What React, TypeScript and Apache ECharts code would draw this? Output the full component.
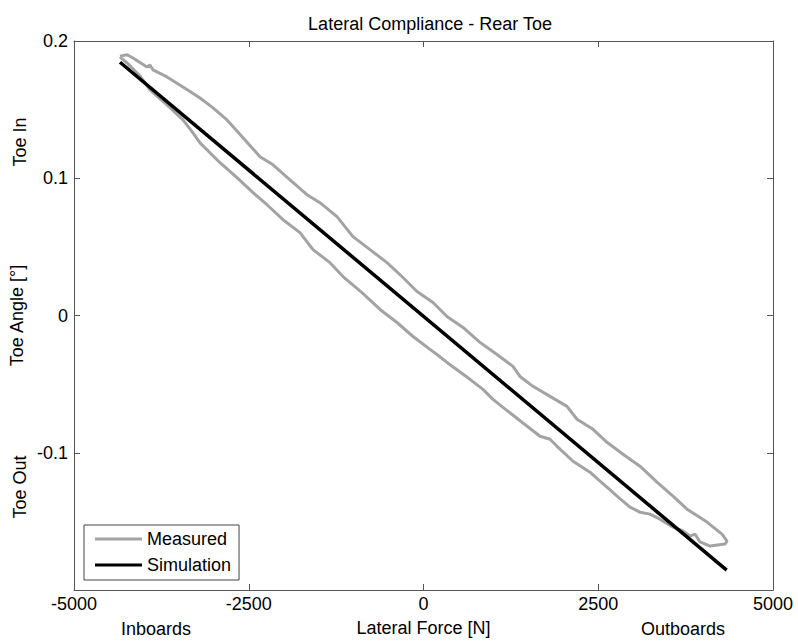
import React, { useEffect, useRef } from "react";
import * as echarts from "echarts";

const titleText = "Lateral Compliance - Rear Toe";
const xTicks = [-5000, -2500, 0, 2500, 5000];
const yTicks = [-0.2, -0.1, 0, 0.1, 0.2];

// Measured hysteresis loop: upper branch (inboard -> outboard), then lower branch back
const measuredX = [
  -4342, -4242, -4156, -3956, -3913, -3870, -3670, -3441, -3197, -3011, -2811, -2582, -2339, -2153, -1910,
  -1667, -1481, -1238, -1009, -765, -522, -308, -93, 136, 336, 565, 808, 1051, 1280, 1380, 1566, 1810,
  2053, 2196, 2425, 2625, 2854, 3097, 3340, 3569, 3770, 4056, 4270, 4342, 4313, 4099, 3956, 3884, 3812,
  3712, 3569, 3383, 3240, 3097, 2954, 2768, 2625, 2525, 2382, 2139, 1910, 1810, 1667, 1409, 1137, 994,
  851, 665, 336, 193, 93, -150, -379, -622, -880, -1152, -1338, -1581, -1767, -2010, -2239, -2439, -2668,
  -2911, -3197, -3298, -3441, -3670, -3913, -4056, -4227, -4342,
];
const measuredY = [
  0.189, 0.19, 0.1876, 0.181, 0.1825, 0.179, 0.1738, 0.1665, 0.1585, 0.1513, 0.1425, 0.1295, 0.1156, 0.1098,
  0.0989, 0.088, 0.0822, 0.072, 0.0575, 0.048, 0.0385, 0.0284, 0.0175, 0.0095, -0.0007, -0.0087, -0.0196,
  -0.0284, -0.0371, -0.0444, -0.0516, -0.0589, -0.0662, -0.0756, -0.0829, -0.0924, -0.1011, -0.1098, -0.1214,
  -0.1316, -0.1411, -0.1505, -0.1593, -0.1644, -0.1665, -0.168, -0.165, -0.1593, -0.1607, -0.157, -0.1542,
  -0.1484, -0.1447, -0.1433, -0.1396, -0.1316, -0.1251, -0.1207, -0.1142, -0.1062, -0.0953, -0.0902, -0.088,
  -0.0778, -0.0669, -0.0611, -0.0538, -0.0465, -0.0342, -0.0284, -0.0247, -0.0153, -0.0051, 0.0044, 0.0167,
  0.0284, 0.0385, 0.048, 0.0604, 0.0698, 0.0807, 0.0895, 0.1004, 0.1113, 0.1258, 0.1331, 0.1425, 0.1535,
  0.1644, 0.1745, 0.1833, 0.1884,
];

const simulationX = [-4342, 4337];
const simulationY = [0.1845, -0.1855];

const FONT = "'Liberation Sans', Arial, sans-serif";
const FS = 18;

export default function App() {
  const ref = useRef<HTMLDivElement>(null);
  useEffect(() => {
    if (!ref.current) return;
    const chart = echarts.init(ref.current, null, { renderer: "svg" });
    const axisLine = { show: true, onZero: false, lineStyle: { color: "#555", width: 1 } };
    const tick = { show: true, inside: true, length: 6, lineStyle: { color: "#555" } };
    chart.setOption({
      animation: false,
      backgroundColor: "#fff",
      title: {
        text: titleText,
        left: 425,
        top: 10,
        textAlign: "center",
        textStyle: { fontFamily: FONT, fontSize: FS, fontWeight: "normal", color: "#000" },
      },
      grid: { left: 74, right: 25, top: 41, bottom: 51, containLabel: false },
      legend: {
        orient: "vertical",
        left: 84,
        top: 525,
        icon: "rect",
        itemWidth: 47,
        itemHeight: 3,
        itemGap: 8,
        padding: [5, 8, 6, 11],
        borderColor: "#444",
        borderWidth: 1,
        borderRadius: 0,
        backgroundColor: "#fff",
        textStyle: { fontFamily: FONT, fontSize: FS, color: "#000" },
        data: ["Measured", "Simulation"],
      },
      xAxis: [
        {
          type: "value",
          min: xTicks[0],
          max: xTicks[xTicks.length - 1],
          interval: 2500,
          position: "bottom",
          name: "Lateral Force [N]",
          nameLocation: "middle",
          nameGap: 29,
          nameTextStyle: { fontFamily: FONT, fontSize: FS, color: "#000" },
          axisLine,
          axisTick: tick,
          splitLine: { show: false },
          axisLabel: { fontFamily: FONT, fontSize: FS, color: "#000", margin: 5, formatter: (v: number) => String(v) },
        },
        {
          type: "value",
          min: xTicks[0],
          max: xTicks[xTicks.length - 1],
          interval: 2500,
          position: "top",
          axisLine,
          axisTick: tick,
          splitLine: { show: false },
          axisLabel: { show: false },
        },
      ],
      yAxis: [
        {
          type: "value",
          min: yTicks[0],
          max: yTicks[yTicks.length - 1],
          interval: 0.1,
          position: "left",
          name: "Toe Angle [°]",
          nameLocation: "middle",
          nameGap: 45,
          nameRotate: 90,
          nameTextStyle: { fontFamily: FONT, fontSize: FS, color: "#000" },
          axisLine,
          axisTick: tick,
          splitLine: { show: false },
          axisLabel: {
            fontFamily: FONT,
            fontSize: FS,
            color: "#000",
            margin: 6,
            showMinLabel: false,
            formatter: (v: number) => (Math.abs(v) < 1e-9 ? "0" : String(Math.round(v * 10) / 10)),
          },
        },
        {
          type: "value",
          min: yTicks[0],
          max: yTicks[yTicks.length - 1],
          interval: 0.1,
          position: "right",
          axisLine,
          axisTick: tick,
          splitLine: { show: false },
          axisLabel: { show: false },
        },
      ],
      graphic: [
        {
          type: "text",
          x: 20,
          y: 142,
          rotation: Math.PI / 2,
          style: { text: "Toe In", fontFamily: FONT, fontSize: FS, fill: "#000", align: "center", verticalAlign: "middle" },
        },
        {
          type: "text",
          x: 20,
          y: 487,
          rotation: Math.PI / 2,
          style: { text: "Toe Out", fontFamily: FONT, fontSize: FS, fill: "#000", align: "center", verticalAlign: "middle" },
        },
        {
          type: "text",
          x: 156,
          y: 629,
          style: { text: "Inboards", fontFamily: FONT, fontSize: FS, fill: "#000", align: "center", verticalAlign: "middle" },
        },
        {
          type: "text",
          x: 683,
          y: 629,
          style: { text: "Outboards", fontFamily: FONT, fontSize: FS, fill: "#000", align: "center", verticalAlign: "middle" },
        },
      ],
      series: [
        {
          name: "Measured",
          type: "line",
          xAxisIndex: 0,
          yAxisIndex: 0,
          symbol: "none",
          data: measuredX.map((x, i) => [x, measuredY[i]]),
          lineStyle: { color: "#a3a3a3", width: 3 },
          itemStyle: { color: "#a3a3a3" },
        },
        {
          name: "Simulation",
          type: "line",
          xAxisIndex: 0,
          yAxisIndex: 0,
          symbol: "none",
          data: simulationX.map((x, i) => [x, simulationY[i]]),
          lineStyle: { color: "#000", width: 3.5 },
          itemStyle: { color: "#000" },
        },
      ],
    });
    return () => chart.dispose();
  }, []);
  return <div ref={ref} style={{ width: 798, height: 642, position: "absolute", left: 0, top: 0 }} />;
}
